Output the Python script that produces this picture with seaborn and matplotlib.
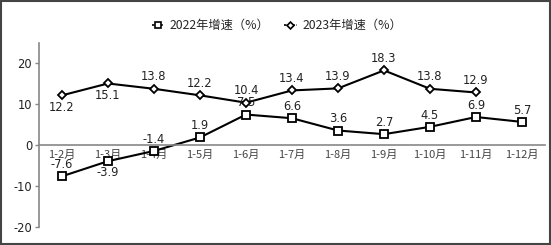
import matplotlib
matplotlib.use('Agg')
import matplotlib.pyplot as plt
import seaborn as sns
from matplotlib.patches import Rectangle
from matplotlib.lines import Line2D

categories = ['1-2月', '1-3月', '1-4月', '1-5月', '1-6月', '1-7月',
              '1-8月', '1-9月', '1-10月', '1-11月', '1-12月']
growth_2022 = [-7.6, -3.9, -1.4, 1.9, 7.5, 6.6, 3.6, 2.7, 4.5, 6.9, 5.7]
growth_2023 = [12.2, 15.1, 13.8, 12.2, 10.4, 13.4, 13.9, 18.3, 13.8, 12.9]
series_names = ['2022年增速（%）', '2023年增速（%）']
y_ticks = [-20, -10, 0, 10, 20]

below_2022 = {1}
below_2023 = {0, 1}

sns.set_style('white')
plt.rcParams['font.family'] = ['DejaVu Sans', 'Noto Sans CJK SC']

fig = plt.figure(figsize=(5.51, 2.45), dpi=100)
ax = fig.add_axes([39 / 551, 18 / 245, (545 - 39) / 551, (227 - 43) / 245])

x22 = list(range(len(growth_2022)))
x23 = list(range(len(growth_2023)))
sns.lineplot(x=x22, y=growth_2022, ax=ax, color='black', lw=1.5,
             marker='s', markersize=5.5, markerfacecolor='white',
             markeredgecolor='black', markeredgewidth=1.3, legend=False)
sns.lineplot(x=x23, y=growth_2023, ax=ax, color='black', lw=1.5,
             marker='D', markersize=4.5, markerfacecolor='white',
             markeredgecolor='black', markeredgewidth=1.3, legend=False)

for i, v in enumerate(growth_2022):
    off = -8.5 if i in below_2022 else 8.5
    ax.annotate(f'{v:.1f}', (i, v), xytext=(0, off), textcoords='offset points',
                ha='center', va='center', fontsize=8.3, color='#222222')
for i, v in enumerate(growth_2023):
    off = -8.5 if i in below_2023 else 8.5
    ax.annotate(f'{v:.1f}', (i, v), xytext=(0, off), textcoords='offset points',
                ha='center', va='center', fontsize=8.3, color='#222222')

for s in ['top', 'right']:
    ax.spines[s].set_visible(False)
ax.spines['bottom'].set_position(('data', 0))
ax.spines['bottom'].set_color('#888888')
ax.spines['bottom'].set_linewidth(1.2)
ax.spines['left'].set_color('#888888')
ax.spines['left'].set_linewidth(1.2)

ax.set_xlim(-0.5, len(categories) - 0.5)
ax.set_ylim(-20, 25)
ax.set_yticks(y_ticks)
ax.set_yticklabels([str(t) for t in y_ticks], fontsize=8.3, color='#222222')
ax.set_xticks(range(len(categories)))
ax.set_xticklabels(categories, fontsize=8.0, color='#444444',
                   family=['Noto Sans CJK SC'])
ax.tick_params(axis='x', length=0, pad=3)
ax.tick_params(axis='y', length=3, width=1, color='#888888', pad=2, left=True)
ax.grid(False)
ax.set_xlabel('')
ax.set_ylabel('')

handles = [
    Line2D([], [], color='black', lw=1.2, ls=(0, (1.5, 1)), marker='s', markersize=4,
           markerfacecolor='white', markeredgecolor='black', markeredgewidth=1.2),
    Line2D([], [], color='black', lw=1.2, ls=(0, (1.5, 1)), marker='D', markersize=3.5,
           markerfacecolor='white', markeredgecolor='black', markeredgewidth=1.2),
]
fig.legend(handles, series_names, loc='upper center', bbox_to_anchor=(277 / 551, 1 - 8 / 245),
           ncol=2, frameon=False, handlelength=1.0, handletextpad=0.5,
           columnspacing=1.2, prop={'family': ['Noto Sans CJK SC'], 'size': 8.8})

fig.patches.append(Rectangle((0.002, 0.004), 0.996, 0.992, transform=fig.transFigure,
                             fill=False, edgecolor='#444444', linewidth=1.5))

fig.savefig('out.png', dpi=100)
